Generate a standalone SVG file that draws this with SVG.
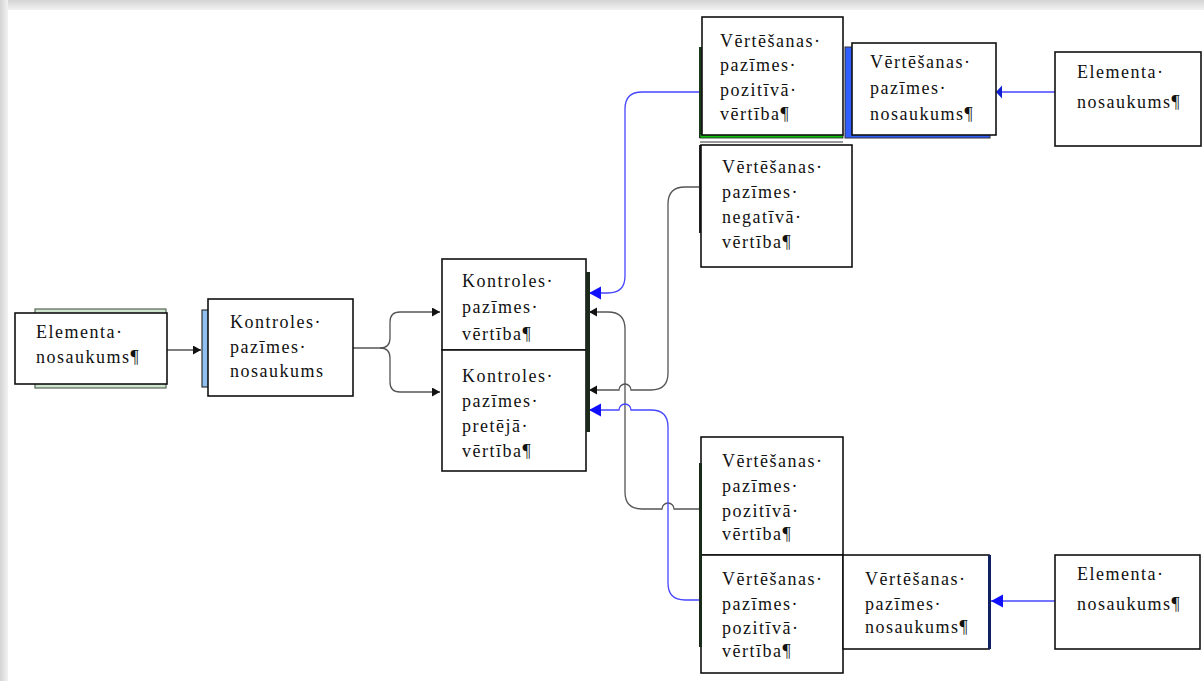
<svg xmlns="http://www.w3.org/2000/svg" width="1204" height="681" viewBox="0 0 1204 681">
<defs>
<linearGradient id="gTop" x1="0" y1="0" x2="0" y2="1"><stop offset="0" stop-color="#d4d4d4"/><stop offset="1" stop-color="#f2f2f2"/></linearGradient>
<linearGradient id="gLeft" x1="0" y1="0" x2="1" y2="0"><stop offset="0" stop-color="#d4d4d4"/><stop offset="1" stop-color="#f2f2f2"/></linearGradient>
<marker id="aBlack" markerUnits="userSpaceOnUse" markerWidth="10" markerHeight="10" refX="8" refY="4.5" orient="auto"><path d="M0,0 L8,4.5 L0,9 Z" fill="#111"/></marker>
<marker id="aBlue" markerUnits="userSpaceOnUse" markerWidth="14" markerHeight="14" refX="12" refY="6.5" orient="auto"><path d="M0,0 L12,6.5 L0,13 Z" fill="#1010ff"/></marker>
<marker id="aBlueS" markerUnits="userSpaceOnUse" markerWidth="10" markerHeight="14" refX="6" refY="6.5" orient="auto"><path d="M0,0 L6,6.5 L0,13 Z" fill="#1020d0"/></marker>
<style>
.box{fill:#fff;stroke:#111;stroke-width:1.6}
.t{font-family:"Liberation Serif","Times New Roman",serif;font-size:18px;letter-spacing:1.5px;fill:#111}
.cb{fill:none;stroke:#555;stroke-width:1.3}
.cu{fill:none;stroke:#4646ff;stroke-width:1.3}
</style>
</defs>
<rect x="0" y="0" width="1204" height="681" fill="#fff"/>
<rect x="0" y="0" width="1204" height="10" fill="url(#gTop)"/>
<rect x="0" y="0" width="8" height="681" fill="url(#gLeft)"/>

<g id="connectors">
<path class="cb" d="M167,350 H201" marker-end="url(#aBlack)"/>
<path class="cb" d="M353,348 H380 Q390,348 390,338 V322 Q390,312 400,312 H440" marker-end="url(#aBlack)"/>
<path class="cb" d="M380,348 Q390,348 390,358 V382 Q390,392 400,392 H440" marker-end="url(#aBlack)"/>
<path class="cu" d="M700,92 H642 Q625,92 625,109 V276 Q625,293 608,293 H589" marker-end="url(#aBlue)"/>
<path class="cb" d="M700,187 H685 Q668,187 668,204 V373 Q668,390 651,390 H631 A6,6 0 0 0 619,390 H589" marker-end="url(#aBlack)"/>
<path class="cb" d="M700,509 H674 A6,6 0 0 0 662,509 H642 Q625,509 625,492 V329 Q625,312 608,312 H589" marker-end="url(#aBlack)"/>
<path class="cu" d="M700,600 H685 Q668,600 668,583 V427 Q668,410 651,410 H631 A6,6 0 0 0 619,410 H589" marker-end="url(#aBlue)"/>
<path class="cu" d="M1055,92 H996" stroke="#7a7aff" marker-end="url(#aBlueS)"/>
<path class="cu" d="M1055,601 H991" marker-end="url(#aBlue)"/>
</g>

<g id="n-elem1">
<rect x="35" y="309" width="131" height="79" fill="#cfe5cf" stroke="#556655" stroke-width="1.2"/>
<rect class="box" x="15" y="313" width="152" height="71"/>
<text class="t" x="36" y="338">Elementa·</text>
<text class="t" x="36" y="363">nosaukums¶</text>
</g>

<g id="n-kontroles-nos">
<rect x="202" y="310" width="7" height="77" fill="#90c0f0" stroke="#333" stroke-width="1.2"/>
<rect class="box" x="208" y="299" width="145" height="97"/>
<text class="t" x="230" y="328">Kontroles·</text>
<text class="t" x="230" y="353">pazīmes·</text>
<text class="t" x="230" y="377">nosaukums</text>
</g>

<g id="n-kontroles-vert">
<rect class="box" x="442" y="259" width="144" height="91"/>
<text class="t" x="462" y="287">Kontroles·</text>
<text class="t" x="462" y="313">pazīmes·</text>
<text class="t" x="462" y="340">vērtība¶</text>
</g>

<g id="n-kontroles-pret">
<rect class="box" x="442" y="350" width="144" height="121"/>
<text class="t" x="462" y="382">Kontroles·</text>
<text class="t" x="462" y="407">pazīmes·</text>
<text class="t" x="462" y="432">pretējā·</text>
<text class="t" x="462" y="457">vērtība¶</text>
<rect x="586" y="272" width="4" height="160" fill="#1c2a1c"/>
</g>

<g id="n-vert-poz1">
<rect x="699" y="47" width="4" height="91" fill="#1a3a1a"/>
<rect x="700" y="134" width="143" height="4" fill="#10c010" stroke="#222" stroke-width="0.8"/>
<rect class="box" x="702" y="17" width="141" height="118"/>
<text class="t" x="720" y="47">Vērtēšanas·</text>
<text class="t" x="720" y="71">pazīmes·</text>
<text class="t" x="720" y="96">pozitīvā·</text>
<text class="t" x="720" y="120">vērtība¶</text>
</g>

<g id="n-vert-nos1">
<rect x="845" y="47" width="145" height="91" fill="#2f5fff" stroke="#333" stroke-width="1"/>
<rect class="box" x="852" y="43" width="144" height="92"/>
<text class="t" x="870" y="68">Vērtēšanas·</text>
<text class="t" x="870" y="94">pazīmes·</text>
<text class="t" x="870" y="120">nosaukums¶</text>
</g>

<g id="n-elem2">
<rect class="box" x="1055" y="52" width="146" height="94"/>
<text class="t" x="1077" y="78">Elementa·</text>
<text class="t" x="1077" y="108">nosaukums¶</text>
</g>

<g id="n-vert-neg">
<line x1="700" y1="142" x2="843" y2="142" stroke="#999" stroke-width="2"/>
<rect x="699" y="145" width="3" height="88" fill="#222"/>
<rect class="box" x="701" y="145" width="151" height="122"/>
<text class="t" x="722" y="173">Vērtēšanas·</text>
<text class="t" x="722" y="198">pazīmes·</text>
<text class="t" x="722" y="223">negatīvā·</text>
<text class="t" x="722" y="248">vērtība¶</text>
</g>

<g id="n-vert-poz2">
<rect class="box" x="701" y="437" width="142" height="118"/>
<text class="t" x="722" y="467">Vērtēšanas·</text>
<text class="t" x="722" y="492">pazīmes·</text>
<text class="t" x="722" y="517">pozitīvā·</text>
<text class="t" x="722" y="540">vērtība¶</text>
</g>

<g id="n-vert-poz3">
<rect class="box" x="701" y="555" width="142" height="118"/>
<text class="t" x="722" y="585">Vērtēšanas·</text>
<text class="t" x="722" y="610">pazīmes·</text>
<text class="t" x="722" y="634">pozitīvā·</text>
<text class="t" x="722" y="657">vērtība¶</text>
<rect x="699" y="463" width="3" height="184" fill="#1a2a1a"/>
</g>

<g id="n-vert-nos2">
<rect class="box" x="843" y="555" width="146" height="94"/>
<rect x="988" y="555" width="3" height="94" fill="#102060"/>
<text class="t" x="865" y="585">Vērtēšanas·</text>
<text class="t" x="865" y="610">pazīmes·</text>
<text class="t" x="865" y="633">nosaukums¶</text>
</g>

<g id="n-elem3">
<rect class="box" x="1055" y="555" width="145" height="94"/>
<text class="t" x="1077" y="580">Elementa·</text>
<text class="t" x="1077" y="610">nosaukums¶</text>
</g>
</svg>
